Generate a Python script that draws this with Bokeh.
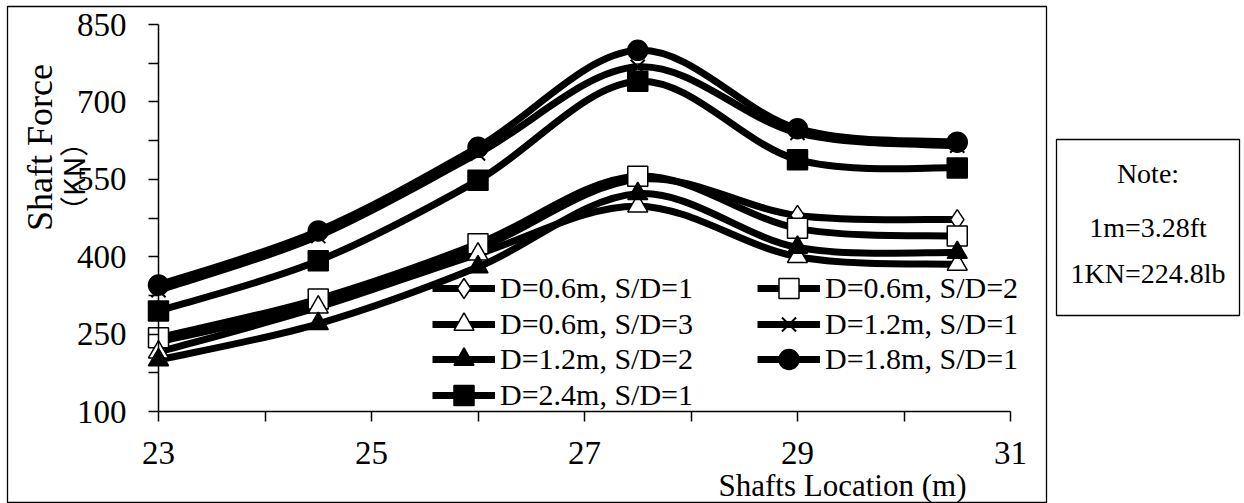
import math
from bokeh.plotting import figure
from bokeh.models import (Range1d, FixedTicker, Legend, LegendItem, Label, BoxAnnotation)
from bokeh.embed import file_html
from bokeh.resources import INLINE

# ---------------- data ----------------
locations = [23, 24.5, 26, 27.5, 29, 30.5]
d06_sd1 = [235, 308, 415, 550, 480, 472]
d06_sd2 = [243, 318, 425, 556, 455, 440]
d06_sd3 = [215, 302, 405, 498, 400, 385]
d12_sd1 = [335, 440, 600, 768, 640, 615]
d12_sd2 = [200, 270, 380, 522, 418, 408]
d18_sd1 = [345, 450, 612, 800, 648, 622]
d24_sd1 = [295, 392, 548, 740, 588, 572]

series_labels = ["D=0.6m, S/D=1", "D=0.6m, S/D=2", "D=0.6m, S/D=3", "D=1.2m, S/D=1",
                 "D=1.2m, S/D=2", "D=1.8m, S/D=1", "D=2.4m, S/D=1"]
series_values = [d06_sd1, d06_sd2, d06_sd3, d12_sd1, d12_sd2, d18_sd1, d24_sd1]
series_markers = ["diamond", "square", "triangle", "x", "triangle", "circle", "square"]
series_fills = ["white", "white", "white", "black", "black", "black", "black"]

x_ticks = [23, 25, 27, 29, 31]
x_minor = [24, 26, 28, 30]
y_ticks = [100, 250, 400, 550, 700, 850]
y_minor = [175, 325, 475, 625, 775]

FONT = "Liberation Serif"

# ---------------- geometry (pixels) ----------------
W, H = 1244, 503
FX0, FX1 = 158, 1010      # plot-area left/right
FY0, FY1 = 24, 411        # plot-area top/bottom
XMIN, XMAX = 23, 31
YMIN, YMAX = 100, 850
kx = (FX1 - FX0) / (XMAX - XMIN)
ky = (FY1 - FY0) / (YMAX - YMIN)


def dx(px):
    return XMIN + (px - FX0) / kx


def dy(py):
    return YMAX - (py - FY0) / ky


def smooth_segments(xs, ys):
    """Excel-like smoothed line: cubic Bezier control points (Catmull-Rom)."""
    n = len(xs)
    out = dict(x0=[], y0=[], x1=[], y1=[], cx0=[], cy0=[], cx1=[], cy1=[])
    for i in range(n - 1):
        a = i - 1 if i > 0 else i
        d = i + 2 if i + 2 < n else i + 1
        out["x0"].append(xs[i]); out["y0"].append(ys[i])
        out["x1"].append(xs[i + 1]); out["y1"].append(ys[i + 1])
        out["cx0"].append(xs[i] + (xs[i + 1] - xs[a]) / 6.0)
        out["cy0"].append(ys[i] + (ys[i + 1] - ys[a]) / 6.0)
        out["cx1"].append(xs[i + 1] - (xs[d] - xs[i]) / 6.0)
        out["cy1"].append(ys[i + 1] - (ys[d] - ys[i]) / 6.0)
    return out


p = figure(width=W, height=H, output_backend="svg", toolbar_location=None,
           x_range=Range1d(dx(0), dx(W)), y_range=Range1d(dy(H), dy(0)),
           min_border_left=0, min_border_right=0, min_border_top=0, min_border_bottom=0)
p.outline_line_color = None
p.xgrid.visible = False
p.ygrid.visible = False
p.background_fill_color = "white"
p.border_fill_color = "white"

for ax in (p.xaxis[0], p.yaxis[0]):
    ax.axis_line_color = "black"
    ax.axis_line_width = 1.5
    ax.major_tick_line_color = "black"
    ax.minor_tick_line_color = "black"
    ax.major_tick_line_width = 1.5
    ax.minor_tick_line_width = 1.5
    ax.major_tick_in = 0
    ax.minor_tick_in = 0
    ax.major_tick_out = 10
    ax.minor_tick_out = 10
    ax.major_label_text_font = FONT
    ax.major_label_text_font_size = "33px"
    ax.major_label_text_color = "black"

p.xaxis[0].ticker = FixedTicker(ticks=x_ticks, minor_ticks=x_minor)
p.yaxis[0].ticker = FixedTicker(ticks=y_ticks, minor_ticks=y_minor)
p.xaxis[0].fixed_location = YMIN
p.yaxis[0].fixed_location = XMIN
p.xaxis[0].bounds = (XMIN, XMAX)
p.yaxis[0].bounds = (YMIN, YMAX)
p.xaxis[0].major_label_standoff = 20
p.yaxis[0].major_label_standoff = 22

curves = []
marks = []
for vals in series_values:
    curves.append(p.bezier(x0="x0", y0="y0", x1="x1", y1="y1", cx0="cx0", cy0="cy0",
                           cx1="cx1", cy1="cy1", source=smooth_segments(locations, vals),
                           line_color="black", line_width=7))
for vals, mk, fc in zip(series_values, series_markers, series_fills):
    marks.append(p.scatter(locations, vals, marker=mk, size=20, fill_color=fc,
                           line_color="black", line_width=2 if mk == "x" else 1.5))

items = [LegendItem(label=lab, renderers=[c, m]) for lab, c, m in zip(series_labels, curves, marks)]
legend_kw = dict(orientation="horizontal", glyph_width=63, glyph_height=50, spacing=64,
                 padding=0, margin=0, label_standoff=5, label_text_font=FONT,
                 label_text_font_size="30px", label_text_color="black",
                 border_line_color=None, background_fill_alpha=0)
rows = [[0, 1], [2, 3], [4, 5], [6]]
row_centers = [288, 324, 359, 395]
for idx, yc in zip(rows, row_centers):
    p.add_layout(Legend(items=[items[i] for i in idx], location=(432, H - (yc + 25)),
                        **legend_kw), "center")

# frames
box_kw = dict(left_units="canvas", right_units="canvas", top_units="canvas",
              bottom_units="canvas", fill_alpha=0, line_color="black", line_alpha=1.0,
              line_width=1.3)
p.add_layout(BoxAnnotation(left=7, right=1046, top=6, bottom=502, **box_kw))
p.add_layout(BoxAnnotation(left=1056, right=1239, top=139, bottom=315, **box_kw))


def lab(px, py, text, size, angle=0.0, font=FONT):
    p.add_layout(Label(x=dx(px), y=dy(py), text=text, angle=angle, text_font=font,
                       text_font_size=size, text_align="center", text_baseline="middle",
                       text_color="black"))


lab(39, 147, "Shaft Force", "36px", math.pi / 2)
lab(71, 176, "（KN）", "29px", math.pi / 2, "Noto Sans CJK SC")
lab(842, 485, "Shafts Location (m)", "31px")
lab(1147.5, 173, "Note:", "28px")
lab(1147.5, 227, "1m=3.28ft", "28px")
lab(1147.5, 273, "1KN=224.8lb", "28px")

open("out.html", "w").write(file_html(p, INLINE))
